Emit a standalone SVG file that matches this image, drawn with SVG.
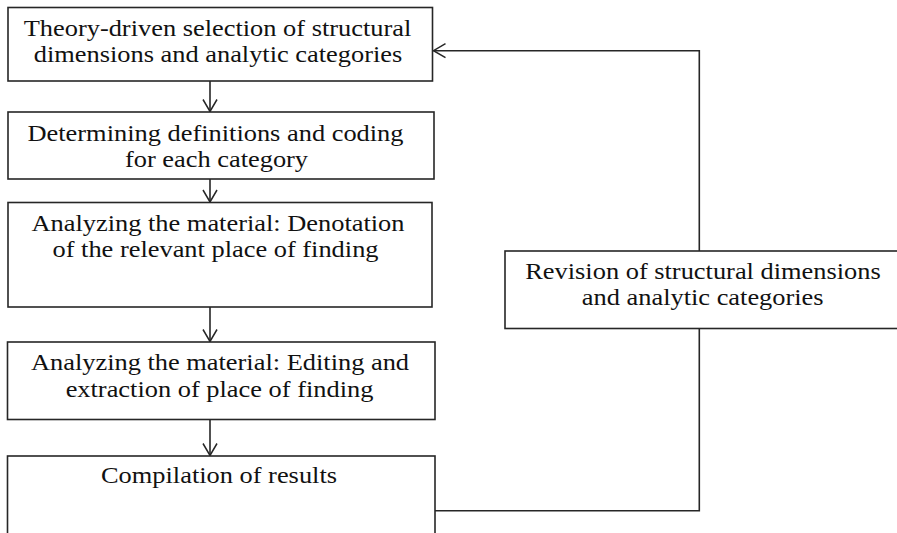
<svg xmlns="http://www.w3.org/2000/svg" width="897" height="533" viewBox="0 0 897 533">
  <style>
    .box { fill: #ffffff; stroke: #262626; stroke-width: 1.6; }
    .conn { fill: none; stroke: #262626; stroke-width: 1.6; }
    .t { font-family: "Liberation Serif", "Times New Roman", serif; font-size: 24px; fill: #111111; text-anchor: middle; }
  </style>
  <defs>
    <marker id="arr" markerUnits="userSpaceOnUse" markerWidth="16" markerHeight="18" refX="13" refY="8" orient="auto">
      <path d="M1,1 L13,8 L1,15" fill="none" stroke="#262626" stroke-width="1.5"/>
    </marker>
  </defs>
  <rect width="897" height="533" fill="#ffffff"/>
  <g id="connectors">
    <line class="conn" x1="210" y1="81" x2="210" y2="111.5" marker-end="url(#arr)"/>
    <line class="conn" x1="210" y1="179" x2="210" y2="202" marker-end="url(#arr)"/>
    <line class="conn" x1="210" y1="307" x2="210" y2="341.5" marker-end="url(#arr)"/>
    <line class="conn" x1="210" y1="419.5" x2="210" y2="455.5" marker-end="url(#arr)"/>
    <polyline class="conn" points="435,510.7 699.3,510.7 699.3,50.7 433.5,50.7" marker-end="url(#arr)"/>
  </g>
  <g id="n1">
    <rect class="box" x="8" y="7.5" width="424.5" height="73.5"/>
    <text class="t" transform="translate(217.5 36) scale(1.1 1)">Theory-driven selection of structural</text>
    <text class="t" transform="translate(218 62) scale(1.1 1)">dimensions and analytic categories</text>
  </g>
  <g id="n2">
    <rect class="box" x="8" y="112" width="426" height="67"/>
    <text class="t" transform="translate(215.5 140.7) scale(1.1 1)">Determining definitions and coding</text>
    <text class="t" transform="translate(216.5 166.7) scale(1.1 1)">for each category</text>
  </g>
  <g id="n3">
    <rect class="box" x="8" y="202.5" width="424" height="104.5"/>
    <text class="t" transform="translate(218 230.7) scale(1.1 1)">Analyzing the material: Denotation</text>
    <text class="t" transform="translate(215.5 257.3) scale(1.1 1)">of the relevant place of finding</text>
  </g>
  <g id="n4">
    <rect class="box" x="7.5" y="342" width="427.5" height="77.5"/>
    <text class="t" transform="translate(220 370) scale(1.1 1)">Analyzing the material: Editing and</text>
    <text class="t" transform="translate(219.5 396.7) scale(1.1 1)">extraction of place of finding</text>
  </g>
  <g id="n5">
    <rect class="box" x="7.5" y="456" width="427.5" height="100"/>
    <text class="t" transform="translate(219 482.7) scale(1.1 1)">Compilation of results</text>
  </g>
  <g id="n6">
    <rect class="box" x="505" y="251" width="400" height="77.5"/>
    <text class="t" transform="translate(703 278.5) scale(1.1 1)">Revision of structural dimensions</text>
    <text class="t" transform="translate(702.7 305) scale(1.1 1)">and analytic categories</text>
  </g>
</svg>
